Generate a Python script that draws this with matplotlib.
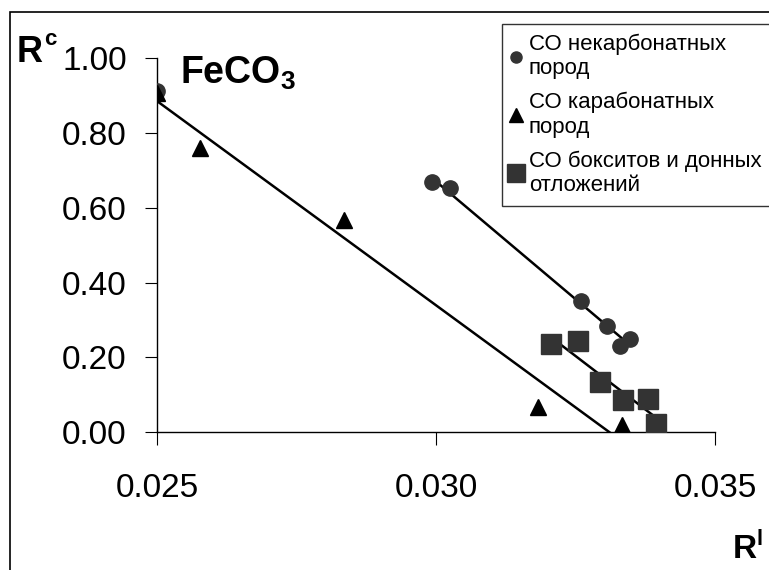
import numpy as np
import matplotlib.pyplot as plt
from matplotlib.patches import Rectangle

plt.rcParams['font.family'] = ['Liberation Sans', 'DejaVu Sans']
plt.rcParams['mathtext.fontset'] = 'custom'
plt.rcParams['mathtext.rm'] = 'Liberation Sans'
plt.rcParams['mathtext.bf'] = 'Liberation Sans:bold'

# некарбонатные породы (первая точка не входит в линию тренда)
x_noncarb = [0.02500, 0.02992, 0.03025, 0.03260, 0.03306, 0.03330, 0.03348]
y_noncarb = [0.913, 0.668, 0.652, 0.351, 0.285, 0.231, 0.249]
noncarb_fit_from = 1
# карбонатные породы
x_carb = [0.02500, 0.02577, 0.02835, 0.03182, 0.03333]
y_carb = [0.907, 0.760, 0.567, 0.068, 0.020]
# бокситы и донные отложения
x_baux = [0.03205, 0.03254, 0.03294, 0.03335, 0.03379, 0.03395]
y_baux = [0.236, 0.245, 0.134, 0.085, 0.089, 0.021]

labels = ['СО некарбонатных\nпород', 'СО карабонатных\nпород',
          'СО бокситов и донных\nотложений']
x_ticks = [0.025, 0.030, 0.035]
y_ticks = [0.0, 0.2, 0.4, 0.6, 0.8, 1.0]

fig = plt.figure(figsize=(7.69, 5.70), dpi=100)
ax = fig.add_axes([0.2046, 0.2416, 0.7252, 0.6561])

# outer frame (cut at right and bottom in the original)
fig.patches.append(Rectangle((10 / 769, -0.1), 1.2, 1.1 - 12 / 570,
                             transform=fig.transFigure, fill=False,
                             edgecolor='black', linewidth=1.2))

series = [
    (x_noncarb, y_noncarb, 'o', '#333333', 11, noncarb_fit_from),
    (x_carb, y_carb, '^', 'black', 11, 0),
    (x_baux, y_baux, 's', '#333333', 14, 0),
]
for (xs, ys, m, c, ms, i0), lab in zip(series, labels):
    ax.plot(xs, ys, linestyle='none', marker=m, color=c, markersize=ms,
            label=lab, zorder=3)
    fx, fy = np.array(xs[i0:]), np.array(ys[i0:])
    k, b = np.polyfit(fx, fy, 1)
    xx = np.array([fx.min(), fx.max()])
    ax.plot(xx, k * xx + b, color='black', linewidth=1.8, zorder=2)

ax.set_xlim(0.025, 0.035)
ax.set_ylim(0, 1.0)
ax.set_xticks(x_ticks)
ax.set_xticklabels(['%.3f' % v for v in x_ticks])
ax.set_yticks(y_ticks)
ax.set_yticklabels(['%.2f' % v for v in y_ticks])
ax.tick_params(axis='both', direction='out', length=9, width=0.8,
               labelsize=24, colors='black')
ax.tick_params(axis='x', pad=20)
ax.tick_params(axis='y', pad=13)
for s in ['top', 'right']:
    ax.spines[s].set_visible(False)
for s in ['left', 'bottom']:
    ax.spines[s].set_linewidth(1.0)

fig.text(180 / 769, 1 - 84 / 570, r'$\mathbf{FeCO_3}$', fontsize=27,
         va='baseline', ha='left')
fig.text(17 / 769, 1 - 62 / 570, 'R', fontsize=26, fontweight='bold',
         va='baseline', ha='left')
fig.text(44 / 769, 1 - 45 / 570, 'c', fontsize=16, fontweight='bold',
         va='baseline', ha='left')
fig.text(733 / 769, 1 - 558 / 570, 'R', fontsize=24, fontweight='bold',
         va='baseline', ha='left')
fig.text(756 / 769, 1 - 545 / 570, 'l', fontsize=16, fontweight='bold',
         va='baseline', ha='left')

leg = fig.legend(loc='upper left', bbox_to_anchor=(502 / 769, 1 - 24 / 570),
                 bbox_transform=fig.transFigure, borderaxespad=0,
                 fontsize=16, frameon=True, fancybox=False, shadow=False,
                 handlelength=0.4, handletextpad=0.35, borderpad=0.45,
                 labelspacing=0.57, markerscale=0.88)
leg.get_frame().set_edgecolor('black')
leg.get_frame().set_linewidth(1.0)
leg.legend_handles[0].set_markersize(8)

fig.savefig('out.png', dpi=100)
